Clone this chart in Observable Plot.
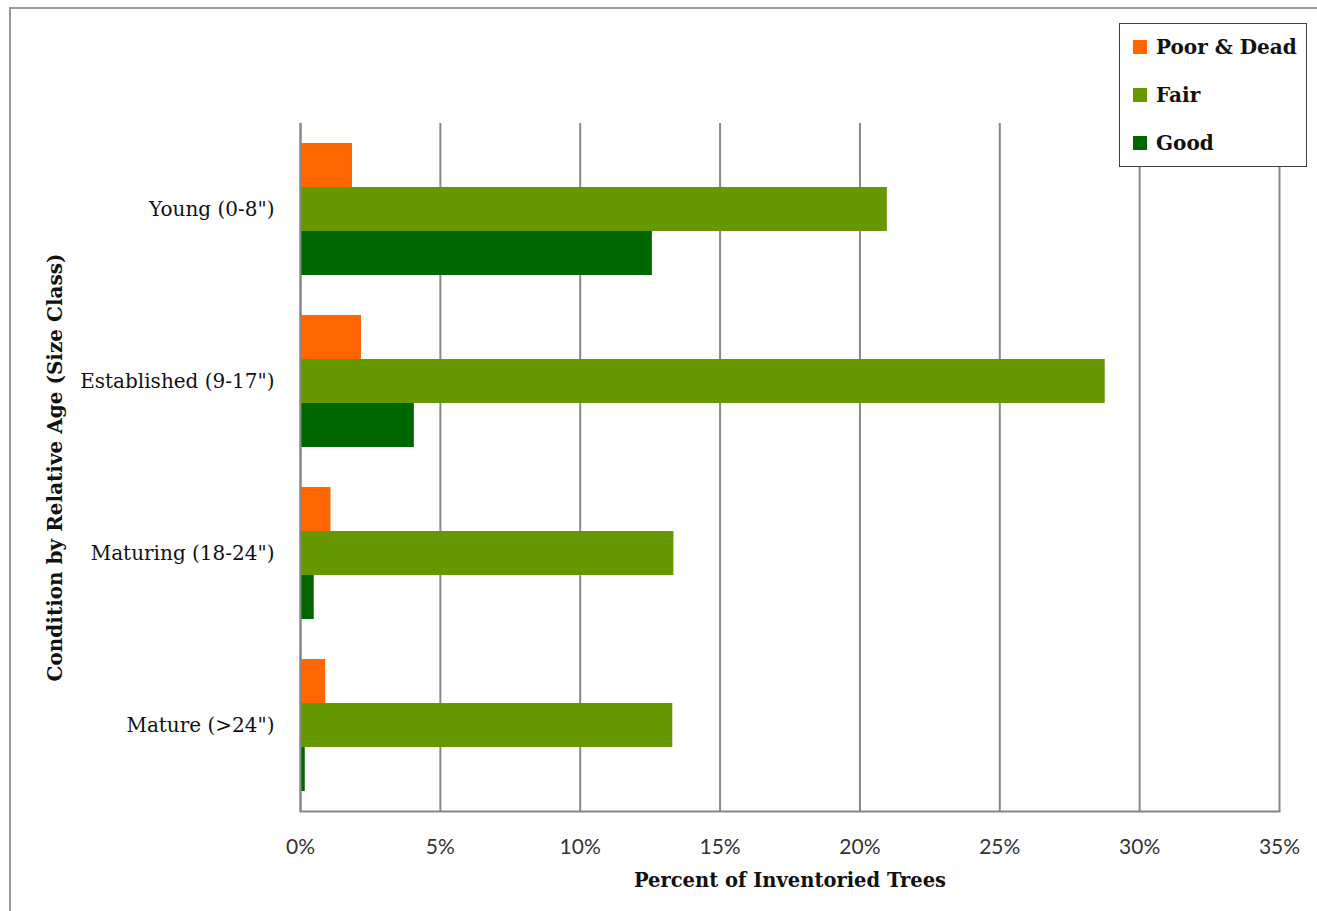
<!DOCTYPE html>
<html><head><meta charset="utf-8">
<script src="https://cdn.jsdelivr.net/npm/d3@7"></script>
<script src="https://cdn.jsdelivr.net/npm/@observablehq/plot@0.6"></script>
<style>
body{margin:0;background:#fff;}
#wrap{position:relative;width:1317px;height:911px;overflow:hidden;background:#fff;}
#border{position:absolute;left:9px;top:7px;width:1400px;height:1000px;border:2px solid #9a9a9a;}
#chart{position:absolute;left:0;top:0;}
#legend{position:absolute;left:1119px;top:23px;width:188px;height:144px;border:1.5px solid #404040;background:#fff;box-sizing:border-box;font-family:"DejaVu Serif",serif;font-weight:bold;font-size:20px;color:#111;}
.item{position:absolute;left:13px;height:24px;display:flex;align-items:center;}
.sw{width:14px;height:14px;margin-right:9px;}
</style>
</head><body>
<div id="wrap"><div id="border"></div><div id="chart"></div><div id="legend"></div></div>
<script>
const categories = ['Young (0-8")', 'Established (9-17")', 'Maturing (18-24")', 'Mature (>24")'];
const conditions = ["Poor & Dead", "Fair", "Good"];
const poorDead = [1.86, 2.18, 1.09, 0.90];
const fair = [20.98, 28.77, 13.35, 13.31];
const good = [12.58, 4.07, 0.49, 0.17];
const colors = ["#FF6600", "#669900", "#006600"];
const xTicks = [0, 5, 10, 15, 20, 25, 30, 35];
const yTitle = "Condition by Relative Age (Size Class)";
const xTitle = "Percent of Inventoried Trees";

const series = [poorDead, fair, good];
const rows = [];
categories.forEach((c, i) => conditions.forEach((k, j) => rows.push({category: c, condition: k, value: series[j][i]})));

const serif = "DejaVu Serif, serif";
const chart = Plot.plot({
  width: 1317, height: 911,
  marginLeft: 300, marginRight: 38, marginTop: 122, marginBottom: 99,
  style: {background: "transparent", fontFamily: serif},
  x: {domain: [0, 35]},
  y: {domain: conditions, axis: null, paddingInner: 0, paddingOuter: 0.42},
  fy: {domain: categories, padding: 0},
  color: {domain: conditions, range: colors},
  marks: [
    Plot.ruleX(xTicks, {stroke: "#878787", strokeWidth: 2}),
    Plot.barX(rows, {x: "value", y: "condition", fy: "category", fill: "condition"}),
    Plot.ruleX([0], {stroke: "#878787", strokeWidth: 2}),
    Plot.frame({anchor: "bottom", stroke: "#878787", strokeWidth: 2, facet: "super"}),
    Plot.axisX(xTicks, {tickSize: 0, tickPadding: 28, tickFormat: d => d + "%", fontSize: 21, fontFamily: "Lato", fill: "#333", label: null}),
    Plot.axisFy({anchor: "left", tickSize: 0, tickPadding: 26, fontSize: 20, fontFamily: serif, fill: "#111", label: null}),
    Plot.text([yTitle], {text: d => d, frameAnchor: "left", textAnchor: "middle", rotate: -90, dx: -245, facet: "super", fontSize: 20, fontWeight: "bold", fontFamily: serif, fill: "#111"}),
    Plot.text([xTitle], {text: d => d, frameAnchor: "bottom", textAnchor: "middle", dy: 75, facet: "super", fontSize: 19.5, fontWeight: "bold", fontFamily: serif, fill: "#111"})
  ]
});
document.getElementById("chart").appendChild(chart);

const legend = document.getElementById("legend");
conditions.forEach((k, j) => {
  const it = document.createElement("div");
  it.className = "item";
  it.style.top = (11 + j * 48) + "px";
  it.innerHTML = `<span class="sw" style="background:${colors[j]}"></span><span>${k.replace("&", "&amp;")}</span>`;
  legend.appendChild(it);
});
</script>
</body></html>
